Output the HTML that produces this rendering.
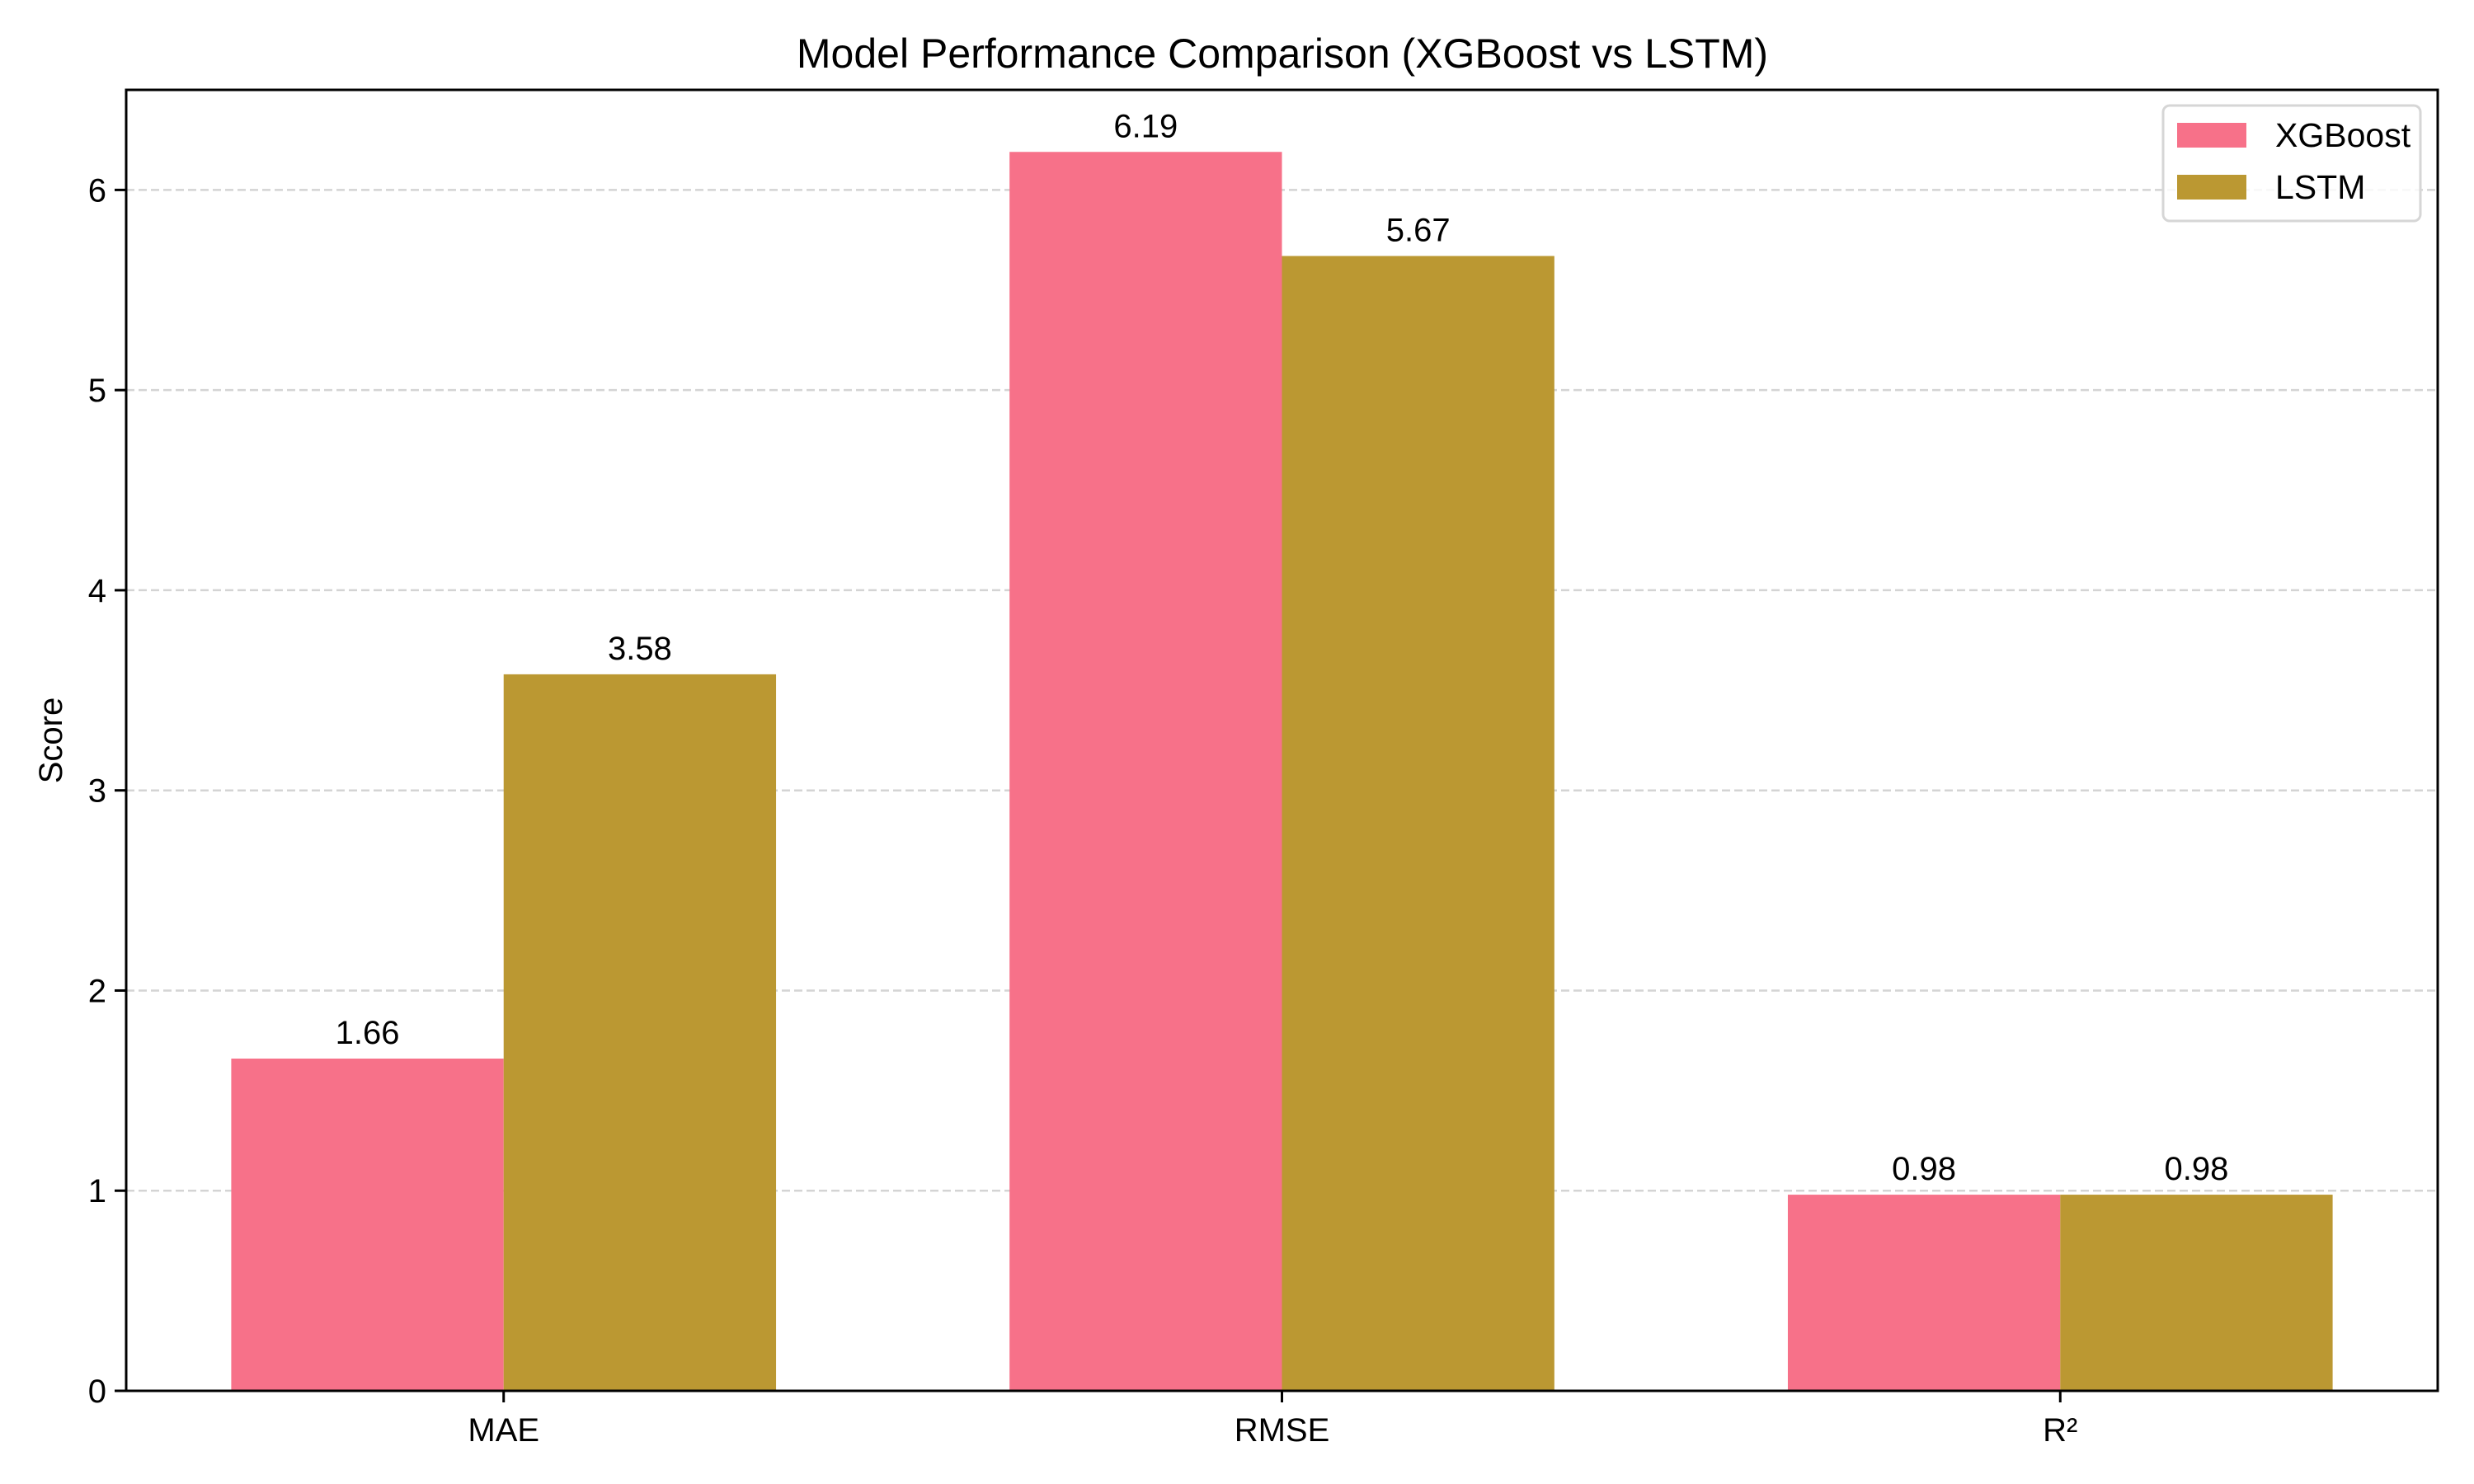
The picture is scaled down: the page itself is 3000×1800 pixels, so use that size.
<!DOCTYPE html>
<html><head><meta charset="utf-8"><style>
html,body{margin:0;padding:0;background:#fff}
svg{display:block;font-family:"Liberation Sans","Noto Sans CJK KR",sans-serif}
</style></head><body>
<svg id="chart" width="3000" height="1800" viewBox="0 0 3000 1800" xmlns="http://www.w3.org/2000/svg">
<rect width="3000" height="1800" fill="#fff"/>
<g id="grid"></g>
<g id="bars"></g>
<g id="labels"></g>
<g id="axes"></g>
<text x="1555" y="82" text-anchor="middle" font-size="50" fill="#000">Model Performance Comparison (XGBoost vs LSTM)</text>
<text x="0" y="0" transform="translate(75,898) rotate(-90)" text-anchor="middle" font-size="40" fill="#000">Score</text>
<g>
<rect x="2623" y="128" width="312" height="140" rx="8" fill="#fff" fill-opacity="0.8" stroke="#d6d6d6" stroke-width="3"/>
<rect x="2640" y="149" width="84" height="30" fill="#f77189"/>
<text x="2759" y="178" font-size="41" fill="#000">XGBoost</text>
<rect x="2640" y="212" width="84" height="30" fill="#bb9832"/>
<text x="2759" y="241" font-size="41" fill="#000">LSTM</text>
</g>
</svg>
<script>
const categories = ["MAE","RMSE","R²"];
const xgboostValues = [1.66,6.19,0.98];
const lstmValues = [3.58,5.67,0.98];
const yTicks = [0,1,2,3,4,5,6];
const NS="http://www.w3.org/2000/svg";
const L=153,R=2956,T=109,B=1687;
const xMin=-0.485,xMax=2.485,yMax=6.5;
const xs=v=>L+(v-xMin)/(xMax-xMin)*(R-L);
const ys=v=>B-v/yMax*(B-T);
function mk(tag,attrs,parent){const e=document.createElementNS(NS,tag);for(const k in attrs)e.setAttribute(k,attrs[k]);parent.appendChild(e);return e;}
const grid=document.getElementById('grid'),bars=document.getElementById('bars'),labels=document.getElementById('labels'),axes=document.getElementById('axes');
yTicks.forEach(t=>{
  const y=ys(t);
  const g=mk('line',{x1:L,x2:R,y1:y,y2:y,stroke:'#d4d4d4','stroke-width':2.5,'stroke-dasharray':'10 5'},grid);
  
  
  const tk=mk('line',{x1:L-14,x2:L,y1:y,y2:y,stroke:'#000','stroke-width':3},axes);
  
  
  const tl=mk('text',{x:L-24,y:y+14,'text-anchor':'end','font-size':40,fill:'#000'},axes);
  tl.textContent=t;
  
  
});
const w=0.35;
const series=[[xgboostValues,'#f77189',-w/2,'xgboost'],[lstmValues,'#bb9832',w/2,'lstm']];
categories.forEach((c,i)=>{
  series.forEach(([vals,col,off,nm])=>{
    const x0=xs(i+off-w/2),x1=xs(i+off+w/2),y=ys(vals[i]);
    const r=mk('rect',{x:x0,y:y,width:x1-x0,height:B-y,fill:col},bars);
    
    
    const t=mk('text',{x:(x0+x1)/2,y:y-18,'text-anchor':'middle','font-size':40,fill:'#000'},labels);
    t.textContent=vals[i].toFixed(2);
    
    
  });
  const x=xs(i);
  const tk=mk('line',{x1:x,x2:x,y1:B,y2:B+14,stroke:'#000','stroke-width':3},axes);
  
  
  const tl=mk('text',{x:x,y:1748,'text-anchor':'middle','font-size':40,fill:'#000'},axes);
  tl.textContent=c;
  
  
});
const fr=mk('rect',{x:L,y:T,width:R-L,height:B-T,fill:'none',stroke:'#000','stroke-width':3},axes);


</script>
</body></html>
